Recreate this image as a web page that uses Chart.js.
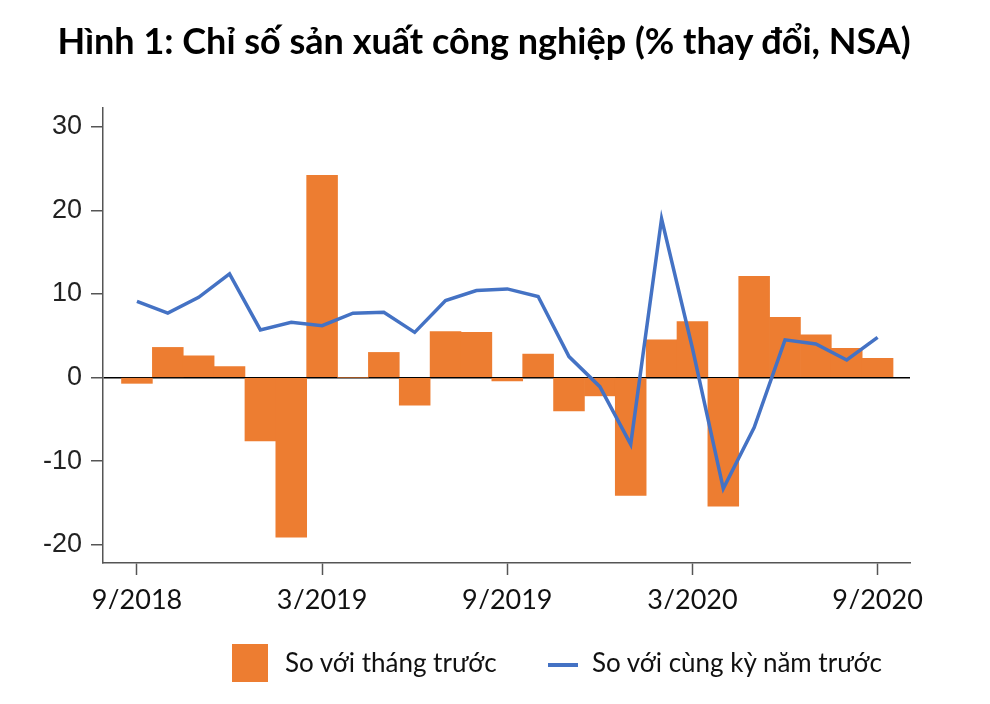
<!DOCTYPE html>
<html>
<head>
<meta charset="utf-8">
<script src="https://cdn.jsdelivr.net/npm/chart.js@4"></script>
<style>
  body { margin:0; background:#fff; }
  #wrap { position:relative; width:990px; height:704px; }
  #title { position:absolute; left:0; top:18px; width:968px; text-align:center;
           font-family:Lato, sans-serif; font-weight:bold; font-size:36px; color:#000; }
  #legend { position:absolute; top:644px; left:232px; font-family:Lato, sans-serif; font-size:26px; color:#111; }
  .item { position:absolute; top:0; white-space:nowrap; }
  .box { position:absolute; width:36px; height:38px; background:#ED7D31; }
  .ln { position:absolute; width:30px; height:4px; background:#4472C4; }
</style>
</head>
<body>
<div id="wrap">
  <canvas id="chart" width="990" height="704"></canvas>
  <div id="title">Hình 1: Chỉ số sản xuất công nghiệp (% thay đổi, NSA)</div>
  <div id="legend">
    <div class="item" style="left:0"><div class="box"></div><span style="position:absolute;left:53px;top:2px">So với tháng trước</span></div>
    <div class="item" style="left:316px"><div class="ln" style="top:19px"></div><span style="position:absolute;left:44px;top:2px">So với cùng kỳ năm trước</span></div>
  </div>
</div>
<script>
let months = ["9/2018","10/2018","11/2018","12/2018","1/2019","2/2019","3/2019","4/2019","5/2019","6/2019","7/2019","8/2019","9/2019",
              "10/2019","11/2019","12/2019","1/2020","2/2020","3/2020","4/2020","5/2020","6/2020","7/2020","8/2020","9/2020"];
// so voi thang truoc
let momVals = [-0.7, 3.6, 2.6, 1.3, -7.6, -19.1, 24.2, 0.0, 3.0, -3.3, 5.5, 5.4, -0.4,
               2.8, -4.0, -2.2, -14.1, 4.5, 6.7, -15.4, 12.1, 7.2, 5.1, 3.5, 2.3];
// so voi cung ky nam truoc
let yoyVals = [9.1, 7.7, 9.6, 12.4, 5.7, 6.6, 6.2, 7.7, 7.8, 5.4, 9.2, 10.4, 10.6,
               9.7, 2.5, -1.1, -8.0, 19.0, 3.5, -13.3, -6.0, 4.5, 4.0, 2.1, 4.8];
let xTicks = [0, 6, 12, 18, 24];
let yTicks = [-20, -10, 0, 10, 20, 30];

let momData = new Array();
let yoyData = new Array();
for(let i=0; i<months.length; i++){
    momData.push({x:i, y:momVals[i]});
    yoyData.push({x:i, y:yoyVals[i]});
}

let chart = new Chart(document.getElementById("chart"), {
    type:"bar",
    data:{
        datasets:[{
            type:"line",
            label:"So với cùng kỳ năm trước",
            data:yoyData,
            borderColor:"#4472C4",
            borderWidth:3.5,
            pointRadius:0,
            tension:0,
            order:0
        },{
            type:"bar",
            label:"So với tháng trước",
            data:momData,
            backgroundColor:"#ED7D31",
            barPercentage:1,
            categoryPercentage:1,
            order:1
        }]
    },
    options:{
        responsive:false,
        animation:false,
        layout:{ padding:{ top:108, right:80, bottom:95, left:0 } },
        plugins:{ legend:{ display:false }, tooltip:{ enabled:false } },
        scales:{
            x:{
                type:"linear",
                min:-1.1,
                max:25.05,
                offset:false,
                afterBuildTicks:function(s){ s.ticks = xTicks.map(v => ({value:v})); },
                afterFit:function(s){ s.height = 46; },
                ticks:{
                    callback:function(v){ return months[v]; },
                    font:{ family:"Lato", size:27 },
                    color:"#111",
                    padding:9,
                    maxRotation:0,
                    autoSkip:false
                },
                grid:{ offset:false, drawOnChartArea:false, tickLength:12, tickColor:"#555", tickWidth:1.5 },
                border:{ color:"#555", width:1.5 }
            },
            y:{
                min:-22.2,
                max:32.25,
                afterBuildTicks:function(s){ s.ticks = yTicks.map(v => ({value:v})); },
                afterFit:function(s){ s.width = 103; },
                ticks:{
                    font:{ family:"Liberation Sans", size:27 },
                    color:"#222",
                    padding:9
                },
                grid:{
                    color:function(c){ return c.tick && c.tick.value === 0 ? "#000" : "rgba(0,0,0,0)"; },
                    lineWidth:1.5,
                    tickLength:12,
                    tickColor:"#555",
                    tickWidth:1.5
                },
                border:{ color:"#555", width:1.5 }
            }
        }
    }
});
</script>
</body>
</html>
